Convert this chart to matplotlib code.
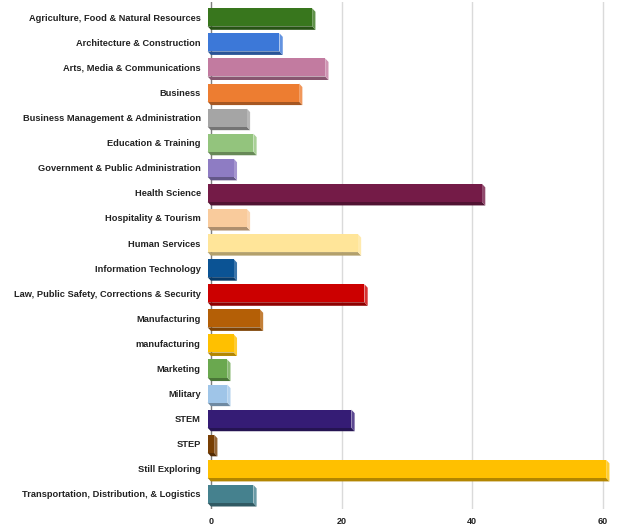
import matplotlib.pyplot as plt
import matplotlib.colors as mcolors
from matplotlib.patches import Polygon

# Career clusters and counts
categories = [
    "Agriculture, Food & Natural Resources",
    "Architecture & Construction",
    "Arts, Media & Communications",
    "Business",
    "Business Management & Administration",
    "Education & Training",
    "Government & Public Administration",
    "Health Science",
    "Hospitality & Tourism",
    "Human Services",
    "Information Technology",
    "Law, Public Safety, Corrections & Security",
    "Manufacturing",
    "manufacturing",
    "Marketing",
    "Military",
    "STEM",
    "STEP",
    "Still Exploring",
    "Transportation, Distribution, & Logistics",
]
counts = [16, 11, 18, 14, 6, 7, 4, 42, 6, 23, 4, 24, 8, 4, 3, 3, 22, 1, 61, 7]
bar_colors = [
    "#38761d", "#3c78d8", "#c27ba0", "#ed7d31", "#a5a5a5",
    "#93c47d", "#8e7cc3", "#741b47", "#f9cb9c", "#ffe599",
    "#0b5394", "#cc0000", "#b45f06", "#ffc000", "#6aa84f",
    "#9fc5e8", "#351c75", "#783f04", "#ffc000", "#45818e",
]
x_ticks = [0, 20, 40, 60]

FONT = ["Liberation Sans", "DejaVu Sans"]


def shade(color, factor):
    r, g, b = mcolors.to_rgb(color)
    if factor < 1:
        return (r * factor, g * factor, b * factor)
    return (r + (1 - r) * (factor - 1), g + (1 - g) * (factor - 1), b + (1 - b) * (factor - 1))


fig = plt.figure(figsize=(6.21, 5.29), dpi=100)
ax = fig.add_axes([0.3333, 0.0378, 0.6586, 0.958])

dx, dy, h = 0.5, 0.14, 0.72

for i, (v, c) in enumerate(zip(counts, bar_colors)):
    x0, x1 = -dx, v - dx
    top, bot = i - h / 2, i + h / 2
    # bottom face (darker)
    ax.add_patch(Polygon([(x0, bot), (x1, bot), (x1 + dx, bot + dy), (x0 + dx, bot + dy)],
                         closed=True, facecolor=shade(c, 0.7), edgecolor="none", zorder=3))
    # right end face (lighter)
    ax.add_patch(Polygon([(x1, top), (x1 + dx, top + dy), (x1 + dx, bot + dy), (x1, bot)],
                         closed=True, facecolor=shade(c, 1.2), edgecolor="none", zorder=3))
    # front face
    ax.barh(i, v, left=x0, height=h, color=c, edgecolor="none", zorder=4)

for t in x_ticks[1:]:
    ax.axvline(t, color="#dadada", linewidth=1, zorder=1)
ax.axvline(0, color="#7f7f7f", linewidth=1, zorder=2)

ax.set_xlim(-0.6, 62)
ax.set_ylim(len(categories) - 0.4, -0.6)
ax.set_yticks(range(len(categories)))
ax.set_yticklabels(categories, family=FONT, fontweight="bold", fontsize=6.7, color="#222222")
ax.set_xticks(x_ticks)
ax.set_xticklabels([str(t) for t in x_ticks], family=FONT, fontweight="bold",
                   fontsize=6.5, color="#222222")
ax.tick_params(axis="y", length=0, pad=4.5)
ax.tick_params(axis="x", length=0, pad=6)
for s in ax.spines.values():
    s.set_visible(False)

fig.savefig("out.png", dpi=100)
